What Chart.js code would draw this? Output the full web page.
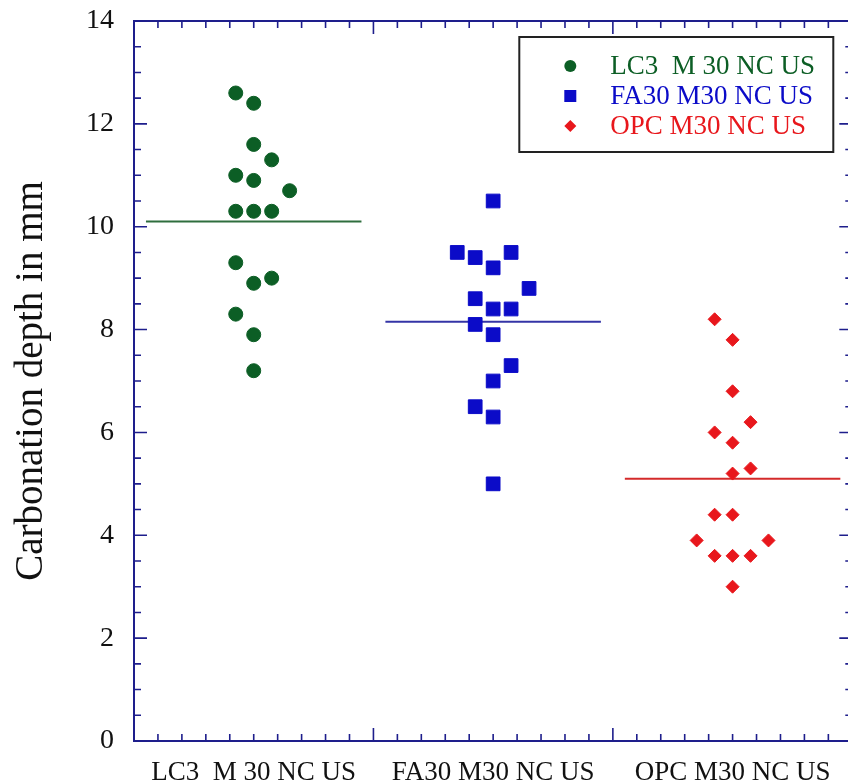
<!DOCTYPE html>
<html>
<head>
<meta charset="utf-8">
<title>Carbonation depth</title>
<script src="https://cdn.jsdelivr.net/npm/chart.js@4.4.0/dist/chart.umd.min.js"></script>
<style>
  html, body { margin: 0; padding: 0; background: #fff; overflow: hidden; }
  #wrap { width: 863px; height: 784px; }
</style>
</head>
<body>
<div id="wrap"><canvas id="depthChart" width="863" height="784"></canvas></div>
<script>
// Mixes along the x axis, one unit wide each
const mixes = ['LC3  M 30 NC US', 'FA30 M30 NC US', 'OPC M30 NC US'];
const mixCentre = [0.5, 1.5, 2.5];

// Individual carbonation depths (mm) and their swarm x positions
const lc3Depth = [12.6, 12.4, 11.6, 11.3, 11.0, 10.9, 10.7, 10.3, 10.3, 10.3, 9.3, 8.9, 9.0, 8.3, 7.9, 7.2];
const lc3X = [0.425, 0.5, 0.5, 0.575, 0.425, 0.5, 0.65, 0.425, 0.5, 0.575, 0.425, 0.5, 0.575, 0.425, 0.5, 0.5];

const fa30Depth = [10.5, 9.5, 9.4, 9.5, 9.2, 8.8, 8.6, 8.4, 8.4, 8.1, 7.9, 7.3, 7.0, 6.5, 6.3, 5.0];
const fa30X = [1.5, 1.35, 1.425, 1.575, 1.5, 1.65, 1.425, 1.5, 1.575, 1.425, 1.5, 1.575, 1.5, 1.425, 1.5, 1.5];

const opcDepth = [8.2, 7.8, 6.8, 6.2, 6.0, 5.8, 5.3, 5.2, 4.4, 4.4, 3.9, 3.9, 3.6, 3.6, 3.6, 3.0];
const opcX = [2.425, 2.5, 2.5, 2.575, 2.425, 2.5, 2.575, 2.5, 2.425, 2.5, 2.35, 2.65, 2.425, 2.5, 2.575, 2.5];

// Mean depth of each mix
const meanDepth = [10.1, 8.15, 5.1];

const yTicks = [0, 2, 4, 6, 8, 10, 12, 14];

const serif = '"Liberation Serif", "Times New Roman", serif';
const axisColour = '#1e1e8c';
const green = '#0c5e25';
const blue = '#0b0bc8';
const red = '#e8171c';

const pairs = (xs, ys) => ys.map((v, i) => ({ x: xs[i], y: v }));
const meanLine = (i) => [
    { x: mixCentre[i] - 0.45, y: meanDepth[i] },
    { x: mixCentre[i] + 0.45, y: meanDepth[i] }
];

// Box frame with inward ticks on all four sides
const frame = {
    id: 'frame',
    afterDraw(chart) {
        const { ctx, chartArea: a, scales: { x, y } } = chart;
        ctx.save();
        ctx.strokeStyle = axisColour;
        ctx.lineWidth = 2;
        ctx.strokeRect(a.left, a.top, a.right - a.left, a.bottom - a.top);
        ctx.lineWidth = 1.6;
        ctx.beginPath();
        for (let i = 0; i <= 30; i++) {
            const px = x.getPixelForValue(i / 10);
            const len = i % 10 === 0 ? 13 : 7;
            ctx.moveTo(px, a.bottom); ctx.lineTo(px, a.bottom - len);
            ctx.moveTo(px, a.top); ctx.lineTo(px, a.top + len);
        }
        for (let i = 0; i <= 28; i++) {
            const py = y.getPixelForValue(i / 2);
            const len = i % 4 === 0 ? 13 : 7;
            ctx.moveTo(a.left, py); ctx.lineTo(a.left + len, py);
            ctx.moveTo(a.right, py); ctx.lineTo(a.right - len, py);
        }
        ctx.stroke();
        ctx.restore();
    }
};

// Boxed legend in the top right corner of the plot
const boxLegend = {
    id: 'boxLegend',
    afterDraw(chart) {
        const { ctx, chartArea: a } = chart;
        const w = 314, h = 115;
        const left = a.right - 19 - w, top = a.top + 16;
        ctx.save();
        ctx.fillStyle = '#fff';
        ctx.fillRect(left, top, w, h);
        ctx.strokeStyle = '#222';
        ctx.lineWidth = 2;
        ctx.strokeRect(left, top, w, h);
        ctx.font = '27px ' + serif;
        ctx.textBaseline = 'middle';
        chart.data.datasets.slice(0, 3).forEach((ds, i) => {
            const cy = top + 29 + i * 30;
            const cx = left + 51;
            ctx.fillStyle = ds.backgroundColor;
            ctx.beginPath();
            if (ds.pointStyle === 'circle') {
                ctx.arc(cx, cy, 6, 0, Math.PI * 2);
            } else if (ds.pointStyle === 'rect') {
                ctx.rect(cx - 6, cy - 6, 12, 12);
            } else {
                ctx.moveTo(cx, cy - 6); ctx.lineTo(cx + 6, cy);
                ctx.lineTo(cx, cy + 6); ctx.lineTo(cx - 6, cy);
                ctx.closePath();
            }
            ctx.fill();
            ctx.fillText(ds.label, left + 91, cy + 1);
        });
        ctx.restore();
    }
};

const pointSet = (label, xs, ys, colour, style, radius) => ({
    label: label,
    data: pairs(xs, ys),
    backgroundColor: colour,
    borderColor: colour,
    pointStyle: style,
    pointRadius: radius,
    pointHoverRadius: radius,
    pointBorderWidth: 1
});

const lineSet = (i, colour) => ({
    label: 'mean ' + mixes[i],
    data: meanLine(i),
    showLine: true,
    borderColor: colour,
    borderWidth: 2,
    pointRadius: 0
});

new Chart(document.getElementById('depthChart'), {
    type: 'scatter',
    data: {
        datasets: [
            pointSet(mixes[0], lc3X, lc3Depth, green, 'circle', 7),
            pointSet(mixes[1], fa30X, fa30Depth, blue, 'rect', 9.7),
            pointSet(mixes[2], opcX, opcDepth, red, 'rectRot', 6.5),
            lineSet(0, '#2f6e3e'),
            lineSet(1, '#3434a6'),
            lineSet(2, '#d42a2a')
        ]
    },
    options: {
        responsive: false,
        animation: false,
        layout: { padding: { top: 21, right: 8, left: 0, bottom: 0 } },
        plugins: {
            legend: { display: false },
            tooltip: { enabled: false }
        },
        scales: {
            x: {
                type: 'linear',
                min: 0,
                max: 3,
                // grid hidden; tickLength only spaces the labels off the axis
                grid: { display: false, drawTicks: true, tickLength: 16 },
                border: { display: false },
                afterBuildTicks: (scale) => { scale.ticks = mixCentre.map(v => ({ value: v })); },
                afterFit: (scale) => { scale.height = 43; },
                ticks: {
                    autoSkip: false,
                    maxRotation: 0,
                    padding: 0,
                    color: '#111',
                    font: { family: serif, size: 27 },
                    callback: (v) => mixes[mixCentre.indexOf(v)] || ''
                }
            },
            y: {
                min: 0,
                max: 14,
                grid: { display: false, drawTicks: true, tickLength: 20 },
                border: { display: false },
                afterBuildTicks: (scale) => { scale.ticks = yTicks.map(v => ({ value: v })); },
                afterFit: (scale) => { scale.width = 134; },
                ticks: {
                    padding: 0,
                    color: '#111',
                    font: { family: serif, size: 28 }
                },
                title: {
                    display: true,
                    text: 'Carbonation depth in mm',
                    color: '#111',
                    font: { family: serif, size: 39 },
                    padding: { top: 8, bottom: 0 }
                }
            }
        }
    },
    plugins: [frame, boxLegend]
});
</script>
</body>
</html>
